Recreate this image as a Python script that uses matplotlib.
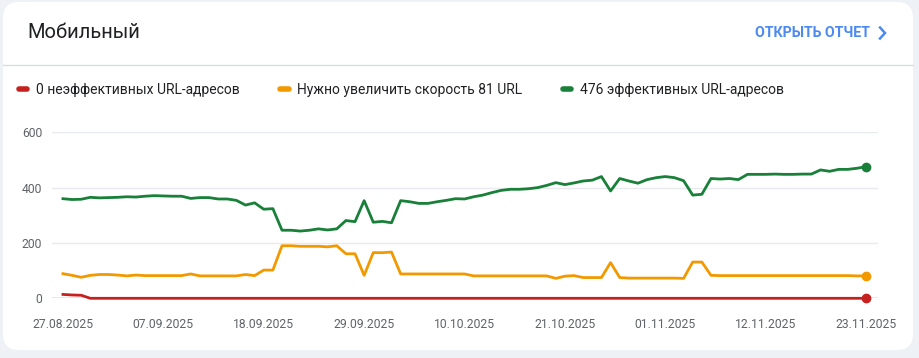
import numpy as np
import pandas as pd
import matplotlib
matplotlib.use("Agg")
import matplotlib.pyplot as plt
from matplotlib.patches import FancyBboxPatch
from matplotlib.lines import Line2D

plt.rcParams['font.family'] = ['Roboto', 'DejaVu Sans']

# данные (по дням, 27.08.2025 - 23.11.2025)
dates = pd.date_range('2025-08-27', '2025-11-23', freq='D')

good = [360, 357, 358, 365, 363, 364, 365, 367, 366, 369,
        371, 370, 369, 369, 361, 364, 364, 359, 359, 354,
        337, 345, 322, 324, 246, 246, 243, 246, 251, 247,
        251, 281, 277, 353, 275, 278, 273, 353, 349, 343,
        343, 349, 354, 360, 359, 367, 373, 382, 390, 394,
        394, 396, 400, 408, 418, 411, 417, 424, 427, 440,
        388, 433, 424, 416, 429, 436, 440, 436, 425, 373,
        376, 433, 431, 433, 429, 448, 448, 448, 449, 448,
        448, 449, 449, 464, 459, 466, 466, 470, 476]

need_fix = [89, 83, 76, 83, 86, 86, 84, 81, 84, 82,
            82, 82, 82, 82, 88, 81, 81, 81, 81, 81,
            86, 82, 102, 102, 190, 190, 188, 188, 188, 186,
            190, 161, 161, 83, 165, 165, 167, 88, 88, 88,
            88, 88, 88, 88, 88, 81, 81, 81, 81, 81,
            81, 81, 81, 81, 72, 80, 82, 75, 75, 75,
            129, 75, 73, 73, 73, 73, 73, 73, 72, 131,
            131, 83, 82, 82, 82, 82, 82, 82, 82, 82,
            82, 82, 82, 82, 82, 82, 82, 81, 81]

bad = [14, 12, 11] + [0] * 86

tick_labels = ['27.08.2025', '07.09.2025', '18.09.2025', '29.09.2025', '10.10.2025',
               '21.10.2025', '01.11.2025', '12.11.2025', '23.11.2025']
y_ticks = [0, 200, 400, 600]

labels = ['0 неэффективных URL-адресов', 'Нужно увеличить скорость 81 URL',
          '476 эффективных URL-адресов']
colors = ['#c5221f', '#f29900', '#188038']

W, H = 919, 358
fig = plt.figure(figsize=(W / 100, H / 100), dpi=100)
fig.patch.set_facecolor('#eef1f5')

# карточка
card = FancyBboxPatch((3, 8), 910, 348, boxstyle="round,pad=0,rounding_size=16",
                      transform=None, facecolor='white', edgecolor='none', zorder=0)
fig.add_artist(card)
fig.add_artist(Line2D([3 / W, 913 / W], [1 - 65 / H, 1 - 65 / H],
                      color='#dadce0', lw=1))

fig.text(27 / W, 1 - 32 / H, 'Мобильный', fontsize=14.5, color='#202124', va='center')
fig.text(870 / W, 1 - 33 / H, 'ОТКРЫТЬ ОТЧЕТ', fontsize=10.2, color='#4d8af0',
         fontweight='bold', va='center', ha='right')
# стрелка
fig.add_artist(Line2D([880 / W, 885 / W, 880 / W],
                      [1 - 27.5 / H, 1 - 33 / H, 1 - 38.5 / H],
                      color='#4d8af0', lw=1.8, solid_joinstyle='miter'))

ax = fig.add_axes([52 / W, 1 - 298.3 / H, 826 / W, 166 / H])
ax.set_facecolor('none')

for vals, c in zip([bad, need_fix, good], colors):
    ax.plot(dates, vals, color=c, lw=2, clip_on=False, zorder=3)
    ax.plot(dates[-1], vals[-1], 'o', color=c, ms=6, clip_on=False, zorder=4)

x0 = dates[0] - pd.Timedelta(days=1.2)
x1 = dates[-1] + pd.Timedelta(days=1.3)
ax.set_xlim(x0, x1)
ax.set_ylim(0, 600)

ax.set_yticks(y_ticks)
ax.set_xticks(dates[::11])
ax.set_xticklabels(tick_labels)
ax.grid(axis='y', color='#e8eaed', lw=1)
ax.axhline(0, color='#9aa0a6', lw=1, zorder=2)
for s in ax.spines.values():
    s.set_visible(False)
ax.tick_params(length=0, labelsize=8.7, labelcolor='#5f6368')
ax.tick_params(axis='x', pad=14)
ax.tick_params(axis='y', pad=7)

handles = [Line2D([0], [0], color=c, lw=4, solid_capstyle='round') for c in colors]
fig.legend(handles, labels, loc='center left', bbox_to_anchor=(19 / W, 1 - 90 / H),
           ncol=3, frameon=False, fontsize=10, handlelength=0.6, handletextpad=0.6,
           columnspacing=2.95, borderpad=0, borderaxespad=0, labelcolor='#202124')

fig.savefig('out.png', dpi=100, facecolor=fig.get_facecolor())
